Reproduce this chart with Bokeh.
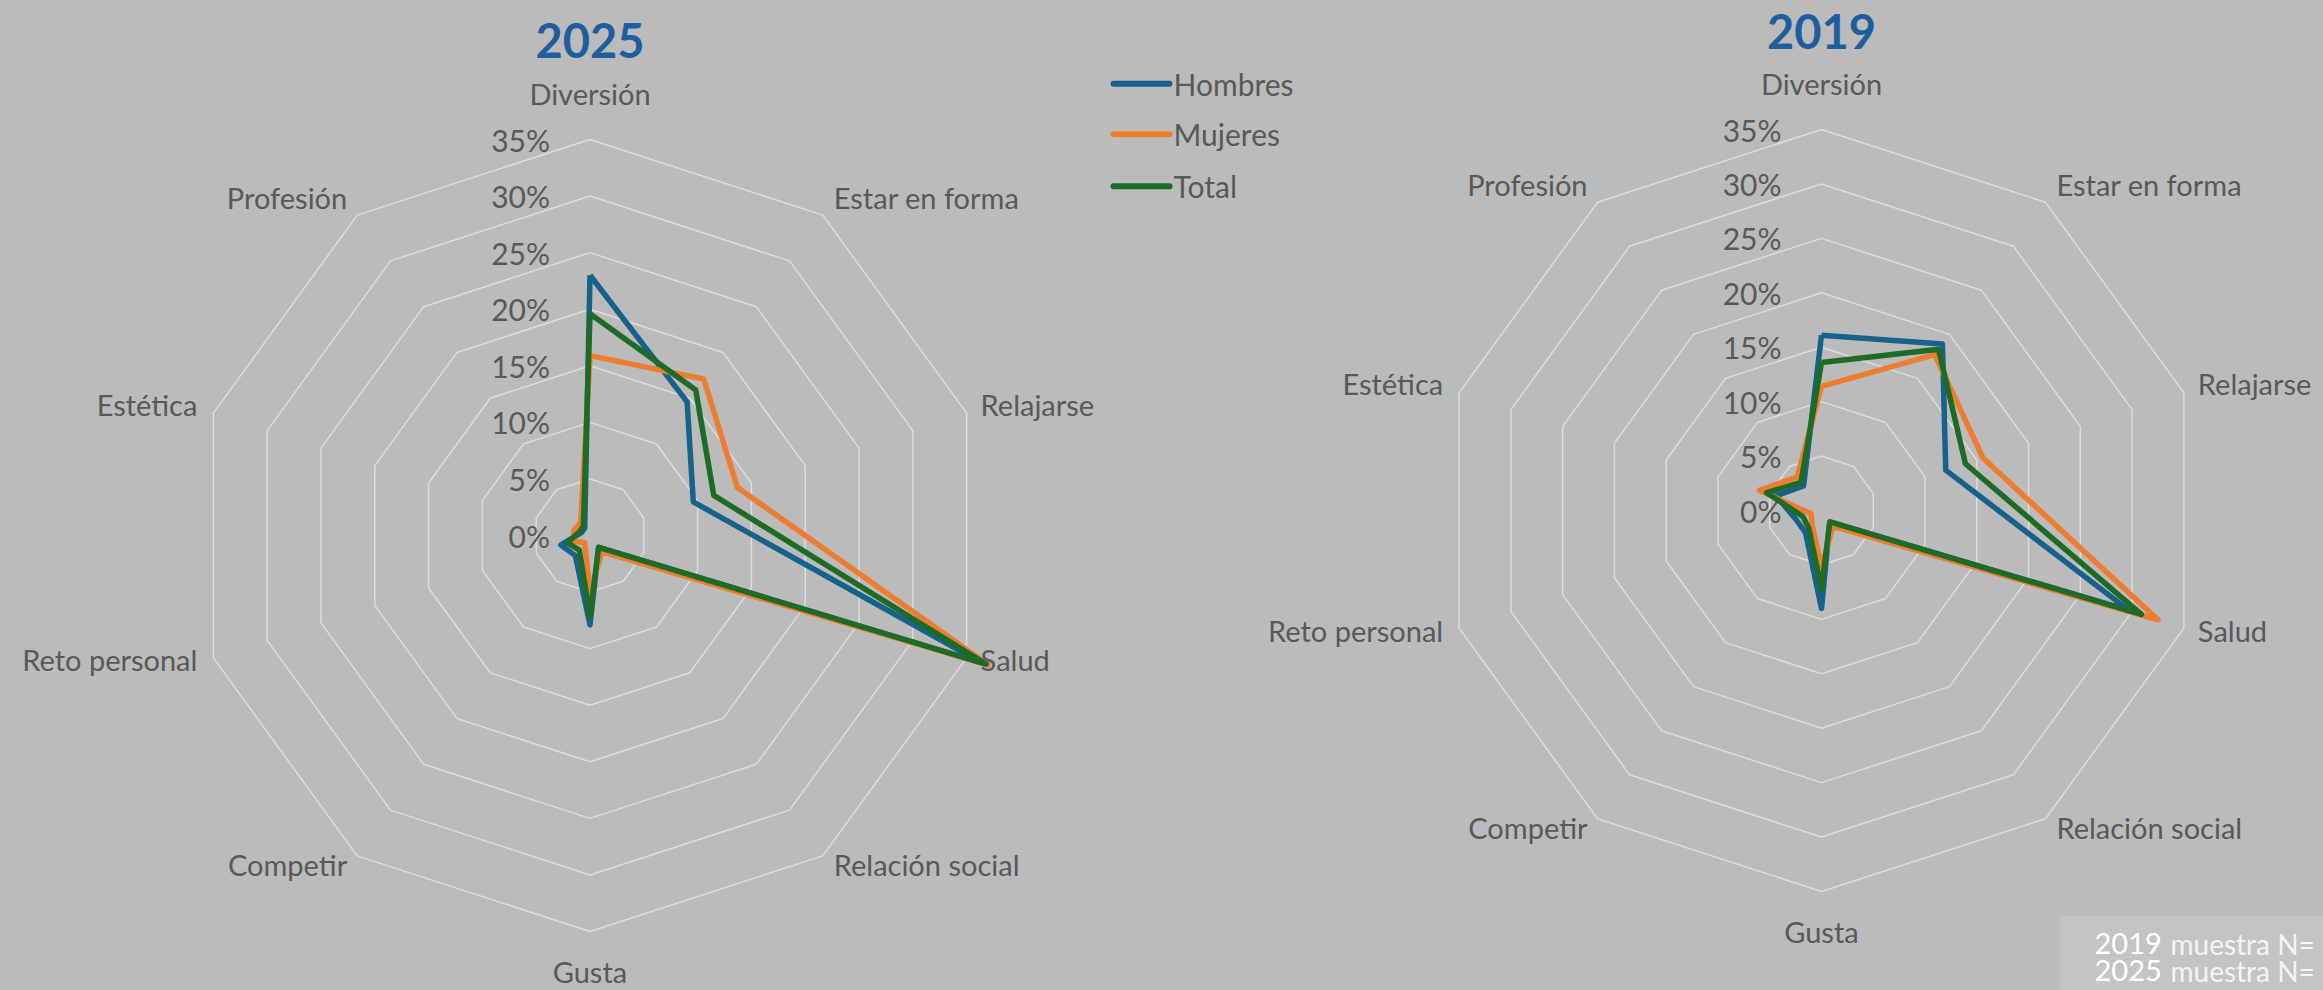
import numpy as np
from bokeh.plotting import figure
from bokeh.models import Range1d
from bokeh.core.properties import value
from bokeh.embed import file_html
from bokeh.resources import INLINE

# ---------------- data ----------------
categories = ["Diversión", "Estar en forma", "Relajarse", "Salud", "Relación social",
              "Gusta", "Competir", "Reto personal", "Estética", "Profesión"]
tick_values = [0, 5, 10, 15, 20, 25, 30, 35]
tick_labels = ["0%", "5%", "10%", "15%", "20%", "25%", "30%", "35%"]
series_names = ["Hombres", "Mujeres", "Total"]

hombres_2025 = [23.0, 14.6, 9.6, 36.4, 1.3, 7.9, 2.2, 2.7, 0.8, 0.8]
mujeres_2025 = [15.9, 17.1, 13.7, 37.0, 1.8, 5.0, 0.8, 1.6, 1.5, 1.4]
total_2025 = [19.6, 15.9, 11.5, 36.8, 1.3, 7.1, 1.6, 2.1, 1.0, 1.0]

hombres_2019 = [16.1, 18.9, 12.0, 29.7, 1.3, 9.0, 2.5, 2.5, 4.4, 2.8]
mujeres_2019 = [11.4, 17.7, 15.6, 32.5, 1.8, 5.2, 1.5, 1.0, 6.0, 3.8]
total_2019 = [13.6, 18.3, 13.9, 30.9, 1.3, 7.2, 2.0, 1.8, 5.3, 3.2]

note_years = ["2019", "2025"]
note_text = "muestra N="

# ---------------- style ----------------
W, H = 2323, 990
BG = "#BBBBBB"
GRID = "#DCDCDC"
TXT = "#595959"
TITLE_C = "#1F5E9E"
COLORS = ["#17628A", "#ED7D31", "#1D6B25"]
FONT = value("Lato")

p = figure(width=W, height=H, x_range=Range1d(0, W), y_range=Range1d(H, 0),
           output_backend="svg", toolbar_location=None, min_border=0,
           x_axis_location=None, y_axis_location=None,
           background_fill_color=BG, border_fill_color=BG, outline_line_color=None)
p.grid.grid_line_color = None

label_off = [(0, -46), (11, -18), (14, -9), (14, 2), (11, 9),
             (0, 40), (-10, 9), (-16, 2), (-16, -9), (-10, -18)]
label_align = ["center", "left", "left", "left", "left",
               "center", "right", "right", "right", "right"]


def radar(cx, cy, R, title, title_y, data):
    n = len(categories)
    ang = np.deg2rad(90 - 360.0 / n * np.arange(n))
    angc = np.r_[ang, ang[0]]
    vmax = tick_values[-1]
    xs, ys = [], []
    for t in tick_values[1:]:
        r = R * t / vmax
        xs.append(list(cx + r * np.cos(angc)))
        ys.append(list(cy - r * np.sin(angc)))
    p.multi_line(xs, ys, line_color=GRID, line_width=1.5)

    p.text(x=[cx - 40] * len(tick_values), y=[cy - R * t / vmax for t in tick_values],
           text=tick_labels, text_align="right", text_baseline="middle",
           text_font=FONT, text_font_size="30px", text_color=TXT)

    for vals, color in zip(data, COLORS):
        r = R * np.array(vals + vals[:1]) / vmax
        p.line(cx + r * np.cos(angc), cy - r * np.sin(angc), line_color=color,
               line_width=5.5, line_join="round")

    for align in ["left", "center", "right"]:
        idx = [i for i in range(n) if label_align[i] == align]
        p.text(x=[cx + R * np.cos(ang[i]) + label_off[i][0] for i in idx],
               y=[cy - R * np.sin(ang[i]) + label_off[i][1] for i in idx],
               text=[categories[i] for i in idx], text_align=align,
               text_baseline="middle", text_font=FONT, text_font_size="29px",
               text_color=TXT)

    p.text(x=[cx], y=[title_y], text=[title], text_align="center",
           text_baseline="middle", text_font=FONT, text_font_size="47px",
           text_font_style="bold", text_color=TITLE_C)


radar(589.5, 535, 396, "2025", 40, [hombres_2025, mujeres_2025, total_2025])
radar(1821, 510, 381, "2019", 31, [hombres_2019, mujeres_2019, total_2019])

# legend
leg_y = [83.3, 133.7, 185.7]
for name, color, yy in zip(series_names, COLORS, leg_y):
    p.line([1113, 1169], [yy, yy], line_color=color, line_width=6, line_cap="round")
p.text(x=[1173] * 3, y=leg_y, text=series_names, text_align="left",
       text_baseline="middle", text_font=FONT, text_font_size="30px", text_color=TXT)

# sample note box
p.quad(left=[2059], right=[W + 50], top=[915], bottom=[H + 50],
       fill_color="#C4C4C4", line_color=None)
note_y = [943, 970]
p.text(x=[2094] * 2, y=note_y, text=note_years, text_align="left", text_baseline="middle",
       text_font=FONT, text_font_size="29px", text_color="white")
p.text(x=[2170] * 2, y=note_y, text=[note_text] * 2, text_align="left",
       text_baseline="middle", text_font=FONT, text_font_size="28px", text_color="#F4F4F4")

html = file_html(p, INLINE)
html = html.replace("<head>", "<head><style>body{background:#BBBBBB;}</style>", 1)
open("out.html", "w").write(html)
